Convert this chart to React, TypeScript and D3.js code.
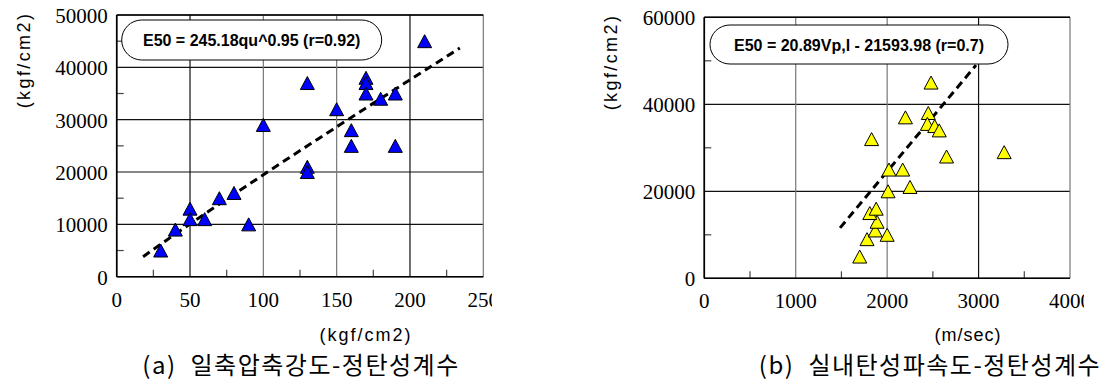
import React from "react";
import * as d3 from "d3";

// ---------- data ----------
const quValues = [30, 40, 50, 50, 60, 70, 80, 90, 100, 130, 130, 130, 150, 160, 160, 170, 170, 170, 180, 190, 190, 210];
const quE50 = [5000, 9000, 13000, 11000, 11000, 15000, 16000, 10000, 29000, 37000, 21000, 20000, 32000, 28000, 25000, 38000, 37000, 35000, 34000, 35000, 25000, 45000];

const vpValues = [1700, 1780, 1870, 2000, 1890, 1810, 1880, 1830, 2010, 2020, 2250, 2170, 2200, 2480, 2450, 2440, 2520, 2570, 2650, 3280];
const vpE50 = [5000, 9000, 11000, 10000, 13000, 15000, 16000, 32000, 20000, 25000, 21000, 25000, 37000, 45000, 38000, 35500, 35000, 34000, 28000, 29000];

// fit (a): E50 = 245.18 qu^0.95, drawn over qu 18..234
const fitA = { coef: 245.18, exp: 0.95, from: 18, to: 234 };
// fit (b): dashed line endpoints as drawn
const fitBx = [1485, 2972];
const fitBy = [11600, 49000];

const xTicksA = [0, 50, 100, 150, 200, 250];
const yTicksA = [0, 10000, 20000, 30000, 40000, 50000];
const xMinorA = [25, 75, 125, 175, 225];
const yMinorA = [5000, 15000, 25000, 35000, 45000];

const xTicksB = [0, 1000, 2000, 3000, 4000];
const yTicksB = [0, 20000, 40000, 60000];
const xMinorB = [500, 1500, 2500, 3500];
const yMinorB = [10000, 30000, 50000];

const eqA = "E50 = 245.18qu^0.95 (r=0.92)";
const eqB = "E50 = 20.89Vp,l - 21593.98 (r=0.7)";
const captionTagA = "(a)";
const captionA = "일축압축강도-정탄성계수";
const captionTagB = "(b)";
const captionB = "실내탄성파속도-정탄성계수";
const xLabelA = "(kgf/cm2)";
const xLabelB = "(m/sec)";
const yLabel = "(kgf/cm2)";

const TRI = "M0,-6.5L7,6.5L-7,6.5Z";
const serif = "'Liberation Serif', 'DejaVu Serif', serif";
const sans = "'Liberation Sans', Arial, sans-serif";
const kr = "'Noto Sans CJK KR', sans-serif";

type PanelProps = {
  id: string;
  x: d3.ScaleLinear<number, number>;
  y: d3.ScaleLinear<number, number>;
  xTicks: number[];
  yTicks: number[];
  xMinor: number[];
  yMinor: number[];
  grayX: number[];
  xs: number[];
  ys: number[];
  fill: string;
  trend: [number, number][];
  eq: string;
  box: { x: number; y: number; w: number; h: number };
  clipRight: number;
  xLabel: string;
  xLabelX: number;
  xLabelSpacing: number;
  yLabelX: number;
  yLabelY: number;
  captionTag: string;
  caption: string;
  captionX: number;
};

function Panel(p: PanelProps) {
  const [x0, x1] = p.x.range();
  const [y0, y1] = p.y.range(); // y0 bottom, y1 top
  const line = d3
    .line<[number, number]>()
    .x((d) => p.x(d[0]))
    .y((d) => p.y(d[1]));
  return (
    <g>
      <defs>
        <clipPath id={p.id + "clip"}>
          <rect x={0} y={0} width={p.clipRight} height={389} />
        </clipPath>
      </defs>
      {/* horizontal grid */}
      {p.yTicks.map((t) => (
        <line key={"hy" + t} x1={x0} x2={x1} y1={p.y(t)} y2={p.y(t)} stroke="#111" strokeWidth={1.2} />
      ))}
      {/* vertical grid */}
      {p.xTicks.map((t) => (
        <line
          key={"vx" + t}
          x1={p.x(t)}
          x2={p.x(t)}
          y1={y0}
          y2={y1}
          stroke={p.grayX.includes(t) ? "#777" : "#111"}
          strokeWidth={1.2}
        />
      ))}
      {/* minor ticks */}
      {p.xMinor.map((t) => (
        <line key={"mx" + t} x1={p.x(t)} x2={p.x(t)} y1={y0} y2={y0 - 7} stroke="#444" strokeWidth={1.2} />
      ))}
      {p.yMinor.map((t) => (
        <line key={"my" + t} x1={x0} x2={x0 + 7} y1={p.y(t)} y2={p.y(t)} stroke="#444" strokeWidth={1.2} />
      ))}
      {/* axes */}
      <line x1={x0} x2={x0} y1={y0} y2={y1} stroke="#000" strokeWidth={1.6} />
      <line x1={x0} x2={x1} y1={y0} y2={y0} stroke="#000" strokeWidth={1.6} />
      <line x1={x0} x2={x1} y1={y1} y2={y1} stroke="#000" strokeWidth={1.4} />
      {/* equation box */}
      <rect
        x={p.box.x}
        y={p.box.y}
        width={p.box.w}
        height={p.box.h}
        rx={20}
        ry={20}
        fill="#fff"
        stroke="#000"
        strokeWidth={1}
      />
      <text
        x={p.box.x + p.box.w / 2}
        y={p.box.y + p.box.h / 2 + 6}
        textAnchor="middle"
        fontFamily={sans}
        fontWeight="bold"
        fontSize={16}
        fill="#000"
      >
        {p.eq}
      </text>
      {/* trend */}
      <path d={line(p.trend) || ""} fill="none" stroke="#000" strokeWidth={3} strokeDasharray="8,5" />
      {/* points */}
      {p.xs.map((v, i) => (
        <path
          key={"pt" + i}
          d={TRI}
          transform={`translate(${p.x(v)},${p.y(p.ys[i])})`}
          fill={p.fill}
          stroke="#000"
          strokeWidth={1}
        />
      ))}
      {/* tick labels */}
      {p.yTicks.map((t) => (
        <text key={"yl" + t} x={x0 - 9} y={p.y(t) + 8} textAnchor="end" fontFamily={serif} fontSize={21} fill="#000">
          {t}
        </text>
      ))}
      <g clipPath={`url(#${p.id}clip)`}>
        {p.xTicks.map((t) => (
          <text key={"xl" + t} x={p.x(t)} y={y0 + 30} textAnchor="middle" fontFamily={serif} fontSize={21} fill="#000">
            {t}
          </text>
        ))}
      </g>
      {/* axis labels */}
      <text
        x={p.xLabelX}
        y={341}
        textAnchor="middle"
        fontFamily={sans}
        fontSize={18}
        letterSpacing={p.xLabelSpacing}
        fill="#000"
      >
        {p.xLabel}
      </text>
      <text
        transform={`translate(${p.yLabelX},${p.yLabelY}) rotate(-90)`}
        textAnchor="middle"
        fontFamily={sans}
        fontSize={18}
        letterSpacing={2.4}
        fill="#000"
      >
        {yLabel}
      </text>
      <text x={p.captionX} y={374} textAnchor="middle" fontFamily={kr} fontSize={24} letterSpacing={1.5} fill="#000">
        <tspan>{p.captionTag}</tspan>
        <tspan dx={14}>{p.caption}</tspan>
      </text>
    </g>
  );
}

export default function App() {
  const xA = d3.scaleLinear().domain([0, 250]).range([116.7, 483.3]);
  const yA = d3.scaleLinear().domain([0, 50000]).range([276.7, 15]);
  const xB = d3.scaleLinear().domain([0, 4000]).range([704.3, 1070]);
  const yB = d3.scaleLinear().domain([0, 60000]).range([278.3, 17.3]);

  const trendA: [number, number][] = d3
    .range(0, 41)
    .map((i) => fitA.from + ((fitA.to - fitA.from) * i) / 40)
    .map((q) => [q, fitA.coef * Math.pow(q, fitA.exp)] as [number, number]);
  const trendB: [number, number][] = fitBx.map((v, i) => [v, fitBy[i]] as [number, number]);

  return (
    <svg
      width={1117}
      height={389}
      style={{ position: "absolute", left: 0, top: 0, background: "#fff" }}
      xmlns="http://www.w3.org/2000/svg"
    >
      <rect x={0} y={0} width={1117} height={389} fill="#fff" />
      <Panel
        id="a"
        x={xA}
        y={yA}
        xTicks={xTicksA}
        yTicks={yTicksA}
        xMinor={xMinorA}
        yMinor={yMinorA}
        grayX={[100, 150, 250]}
        xs={quValues}
        ys={quE50}
        fill="#0000ff"
        trend={trendA}
        eq={eqA}
        box={{ x: 121.7, y: 20, w: 260, h: 40 }}
        clipRight={492}
        xLabel={xLabelA}
        xLabelX={366}
        xLabelSpacing={2}
        yLabelX={30}
        yLabelY={60}
        captionTag={captionTagA}
        caption={captionA}
        captionX={301}
      />
      <Panel
        id="b"
        x={xB}
        y={yB}
        xTicks={xTicksB}
        yTicks={yTicksB}
        xMinor={xMinorB}
        yMinor={yMinorB}
        grayX={[1000, 2000, 4000]}
        xs={vpValues}
        ys={vpE50}
        fill="#ffff00"
        trend={trendB}
        eq={eqB}
        box={{ x: 710, y: 25, w: 298, h: 39 }}
        clipRight={1084}
        xLabel={xLabelB}
        xLabelX={968}
        xLabelSpacing={1}
        yLabelX={617}
        yLabelY={62}
        captionTag={captionTagB}
        caption={captionB}
        captionX={930}
      />
    </svg>
  );
}
